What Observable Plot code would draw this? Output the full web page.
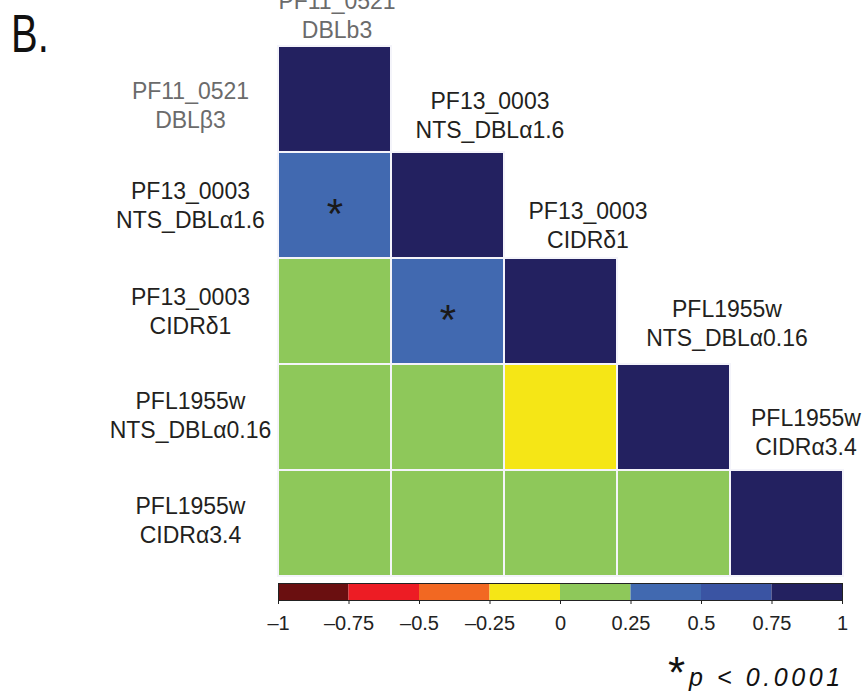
<!DOCTYPE html>
<html>
<head>
<meta charset="utf-8">
<script src="https://cdn.jsdelivr.net/npm/d3@7"></script>
<script src="https://cdn.jsdelivr.net/npm/@observablehq/plot@0.6"></script>
<style>
  html, body { margin: 0; padding: 0; background: white; }
  #wrap { position: relative; width: 867px; height: 698px; overflow: hidden; font-family: "Liberation Sans", Arial, sans-serif; }
  #wrap svg { display: block; }
  #title { position: absolute; left: 11px; top: 6px; font: 54px "Liberation Sans", sans-serif; line-height: 1; color: #111; transform: scaleX(0.74); transform-origin: left top; }
  #ast { position: absolute; left: 668px; top: 648px; font: 44px "Liberation Sans", Arial, sans-serif; line-height: normal; color: #111; }
  #foot { position: absolute; left: 689px; top: 665px; font: italic 25px "Liberation Sans", Arial, sans-serif; line-height: 1; color: #111; letter-spacing: 3.6px; white-space: nowrap; }
</style>
</head>
<body>
<div id="wrap">
  <div id="chart"></div>
  <div id="legend"></div>
  <div id="title">B.</div>
  <div id="ast">*</div>
  <div id="foot">p &lt; 0.0001</div>
</div>
<script>
// Row (left) labels and column (diagonal) labels
const rowNames = ["PF11_0521\nDBLβ3", "PF13_0003\nNTS_DBLα1.6", "PF13_0003\nCIDRδ1", "PFL1955w\nNTS_DBLα0.16", "PFL1955w\nCIDRα3.4"];
const colNames = ["PF11_0521\nDBLb3", "PF13_0003\nNTS_DBLα1.6", "PF13_0003\nCIDRδ1", "PFL1955w\nNTS_DBLα0.16", "PFL1955w\nCIDRα3.4"];

// Lower-triangular correlation values (estimated from colour bands)
const corrRow1 = [1];
const corrRow2 = [0.4, 1];
const corrRow3 = [0.1, 0.4, 1];
const corrRow4 = [0.1, 0.1, -0.1, 1];
const corrRow5 = [0.1, 0.1, 0.1, 0.1, 1];

// Significant cells (row index, column index), p < 0.0001
const sigRows = [1, 2];
const sigCols = [0, 1];

// Colour legend
const legendBreaks = [-1, -0.75, -0.5, -0.25, 0, 0.25, 0.5, 0.75, 1];
const legendColors = ["#6a0f10", "#ed1c24", "#f26822", "#f5e616", "#8ec85a", "#4169b0", "#3a54a3", "#232160"];

// ---- build tables ----
const corrRows = [corrRow1, corrRow2, corrRow3, corrRow4, corrRow5];
const cells = corrRows.flatMap((vals, i) => vals.map((v, j) => ({row: rowNames[i], col: colNames[j], value: v})));
const sig = sigRows.map((r, k) => ({row: rowNames[r], col: colNames[sigCols[k]]}));
const segments = legendBreaks.slice(0, -1).map((b, i) => ({x1: b, x2: legendBreaks[i + 1]}));

const colorScale = {type: "threshold", domain: legendBreaks.slice(1, -1), range: legendColors};

// layout tweaks (label nudges)
const rowDy = [5, -1, -1, -3, -4];
const colDx = [2, 42, 27, 53, 19];
const colDy = [-85, -91, -87, -95, -92];
const labelColor = (i) => i === 0 ? "#6b6b6b" : "#231f20";

const chart = Plot.plot({
  width: 867,
  height: 578,
  marginLeft: 278,
  marginRight: 24,
  marginTop: 45,
  marginBottom: 2,
  x: {domain: colNames, axis: null, padding: 0},
  y: {domain: rowNames, axis: null, padding: 0},
  color: colorScale,
  style: {fontFamily: "Liberation Sans, Arial, sans-serif", background: "transparent"},
  marks: [
    Plot.cell(cells, {x: "col", y: "row", fill: "value", stroke: "#f4f4fa", strokeWidth: 2, inset: 0}),
    Plot.text(sig, {x: "col", y: "row", text: () => "*", fontSize: 42, dy: 9, fill: "#1a1a1a"}),
    ...rowNames.map((name, i) => Plot.text([name], {
      y: d => d, frameAnchor: "left", dx: -88, dy: rowDy[i], text: d => d,
      fontSize: 23, lineHeight: 1.25, textAnchor: "middle", fill: labelColor(i)
    })),
    ...colNames.map((name, i) => Plot.text([i], {
      x: d => colNames[d], y: d => rowNames[d], dx: colDx[i], dy: colDy[i], text: d => colNames[d],
      fontSize: 23, lineHeight: 1.25, textAnchor: "middle", fill: labelColor(i)
    }))
  ]
});
document.getElementById("chart").appendChild(chart);

const fmt = d => d === 0 ? "0" : (d < 0 ? "\u2013" : "") + String(Math.abs(d));
const legend = Plot.plot({
  width: 867,
  height: 120,
  marginLeft: 278,
  marginRight: 25,
  marginTop: 5,
  marginBottom: 98,
  x: {domain: [-1, 1], axis: null},
  color: colorScale,
  style: {fontFamily: "Liberation Sans, Arial, sans-serif", background: "transparent", color: "#222"},
  marks: [
    Plot.rect(segments, {x1: "x1", x2: "x2", fill: d => (d.x1 + d.x2) / 2}),
    Plot.frame({stroke: "#222", strokeWidth: 1}),
    Plot.axisX({ticks: legendBreaks, tickFormat: () => "", tickSize: 4, label: null, stroke: "#222"}),
    Plot.text(legendBreaks, {x: d => d, text: fmt, frameAnchor: "bottom", lineAnchor: "middle", dy: 23, fontSize: 20, fill: "#222"})
  ]
});
document.getElementById("legend").appendChild(legend);
</script>
</body>
</html>
